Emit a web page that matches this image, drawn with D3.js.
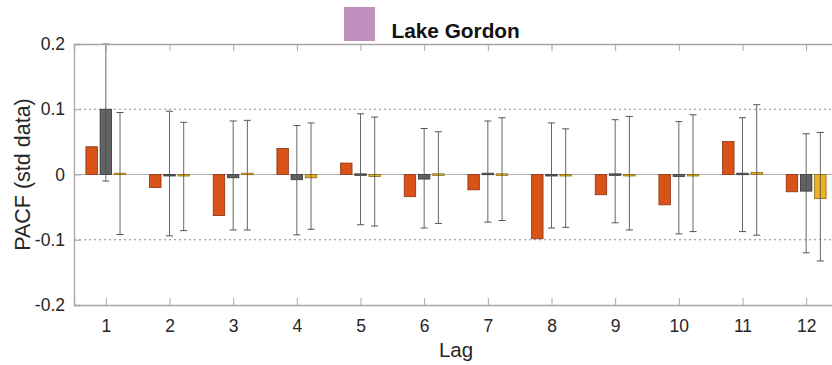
<!DOCTYPE html>
<html>
<head>
<meta charset="utf-8">
<script src="https://cdn.jsdelivr.net/npm/d3@7"></script>
<style>
  body { margin: 0; background: #fff; }
  svg { font-family: "Liberation Sans", Arial, sans-serif; }
</style>
</head>
<body>
<div id="chart"></div>
<script>
var width = 832;
var height = 365;

// Data
var lags = [1, 2, 3, 4, 5, 6, 7, 8, 9, 10, 11, 12];
var colors = ["#D95319", "#626262", "#EDB120"];
var strokes = ["#8a3210", "#333333", "#8a6a10"];

var pacf1 = [0.0425, -0.020, -0.063, 0.040, 0.0175, -0.034, -0.0235, -0.0985, -0.031, -0.0465, 0.0505, -0.0265];
var pacf2 = [0.100, -0.002, -0.005, -0.008, 0.001, -0.007, 0.002, -0.002, 0.001, -0.003, 0.002, -0.0255];
var pacf3 = [0.002, -0.002, 0.002, -0.005, -0.003, 0.001, 0.001, -0.001, 0.000, -0.001, 0.003, -0.037];

var lo2 = [-0.010, -0.094, -0.085, -0.0925, -0.077, -0.082, -0.073, -0.082, -0.074, -0.091, -0.0875, -0.120];
var hi2 = [0.200, 0.097, 0.082, 0.075, 0.093, 0.0705, 0.082, 0.079, 0.084, 0.081, 0.087, 0.0625];
var lo3 = [-0.092, -0.086, -0.085, -0.084, -0.079, -0.075, -0.0705, -0.081, -0.085, -0.0875, -0.093, -0.1325];
var hi3 = [0.095, 0.080, 0.083, 0.079, 0.088, 0.0655, 0.087, 0.070, 0.089, 0.0915, 0.107, 0.0645];

var yTicks = [-0.2, -0.1, 0, 0.1, 0.2];
var yTickLabels = ["-0.2", "-0.1", "0", "0.1", "0.2"];
var refLines = [-0.1, 0.1];

var margin = { top: 44, bottom: 60, left: 74, right: -6 };

var svg = d3.select("#chart").append("svg")
  .attr("width", width)
  .attr("height", height);

var x = d3.scaleLinear()
  .domain([0.5, 12.5])
  .range([margin.left, width - margin.right]);

var y = d3.scaleLinear()
  .domain([-0.2, 0.2])
  .range([height - margin.bottom, margin.top]);

var axisColor = "#a6a6a6";
var textColor = "#262626";

// dotted reference lines
svg.selectAll("line.ref").data(refLines).enter()
  .append("line")
  .attr("class", "ref")
  .attr("x1", margin.left).attr("x2", width - margin.right)
  .attr("y1", function (d) { return y(d); })
  .attr("y2", function (d) { return y(d); })
  .attr("stroke", "#888")
  .attr("stroke-width", 1)
  .attr("stroke-dasharray", "2,3");

// zero line
svg.append("line")
  .attr("x1", margin.left).attr("x2", width - margin.right)
  .attr("y1", y(0)).attr("y2", y(0))
  .attr("stroke", "#b5b5b5")
  .attr("stroke-width", 1.2);

// bars
var step = x(2) - x(1);
var offset = step * 0.223;
var barW = step * 0.18;
var allVals = [pacf1, pacf2, pacf3];

allVals.forEach(function (vals, si) {
  svg.selectAll("rect.s" + si).data(vals).enter()
    .append("rect")
    .attr("class", "s" + si)
    .attr("x", function (d, i) { return x(lags[i]) + (si - 1) * offset - barW / 2; })
    .attr("y", function (d) { return y(Math.max(0, d)); })
    .attr("width", barW)
    .attr("height", function (d) { return Math.max(1.5, Math.abs(y(d) - y(0))); })
    .attr("fill", colors[si])
    .attr("stroke", strokes[si])
    .attr("stroke-width", 0.8);
});

// error bars on series 2 and 3
var errs = [[1, lo2, hi2], [2, lo3, hi3]];
var capW = 3.5;
errs.forEach(function (e) {
  var si = e[0], lo = e[1], hi = e[2];
  var g = svg.append("g");
  lags.forEach(function (lag, i) {
    var cx = x(lag) + (si - 1) * offset;
    g.append("line")
      .attr("x1", cx).attr("x2", cx)
      .attr("y1", y(lo[i])).attr("y2", y(hi[i]))
      .attr("stroke", "#555").attr("stroke-width", 0.9);
    [lo[i], hi[i]].forEach(function (v) {
      g.append("line")
        .attr("x1", cx - capW).attr("x2", cx + capW)
        .attr("y1", y(v)).attr("y2", y(v))
        .attr("stroke", "#555").attr("stroke-width", 1);
    });
  });
});

// axes (MATLAB style, ticks inside)
var xAxisBottom = d3.axisBottom(x).tickValues(lags).tickSize(-7).tickPadding(15);
var gx = svg.append("g")
  .attr("transform", "translate(0," + y(-0.2) + ")")
  .call(xAxisBottom);

var xAxisTop = d3.axisTop(x).tickValues(lags).tickSize(-7).tickFormat("");
var gxt = svg.append("g")
  .attr("transform", "translate(0," + y(0.2) + ")")
  .call(xAxisTop);

var yAxis = d3.axisLeft(y).tickValues(yTicks).tickSize(-7).tickPadding(9)
  .tickFormat(function (d, i) { return yTickLabels[i]; });
var gy = svg.append("g")
  .attr("transform", "translate(" + margin.left + ",0)")
  .call(yAxis);

[gx, gxt, gy].forEach(function (g) {
  g.selectAll("path").attr("stroke", axisColor).attr("stroke-width", 1.3);
  g.selectAll("line").attr("stroke", axisColor).attr("stroke-width", 1);
  g.selectAll("text").attr("fill", textColor).attr("font-size", 17.5)
    .attr("font-family", "Liberation Sans, Arial, sans-serif");
});

// axis labels
svg.append("text")
  .attr("x", 456)
  .attr("y", 356.5)
  .attr("text-anchor", "middle")
  .attr("fill", textColor)
  .attr("font-size", 20.5)
  .text("Lag");

svg.append("text")
  .attr("transform", "translate(30," + y(0) + ")rotate(-90)")
  .attr("text-anchor", "middle")
  .attr("fill", textColor)
  .attr("font-size", 21.5)
  .text("PACF (std data)");

// legend / title
svg.append("rect")
  .attr("x", 344).attr("y", 7)
  .attr("width", 31).attr("height", 34)
  .attr("fill", "#C08FBE");

svg.append("text")
  .attr("x", 391.5)
  .attr("y", 37.5)
  .attr("fill", "#111")
  .attr("font-size", 20.8)
  .attr("font-weight", "bold")
  .text("Lake Gordon");
</script>
</body>
</html>
